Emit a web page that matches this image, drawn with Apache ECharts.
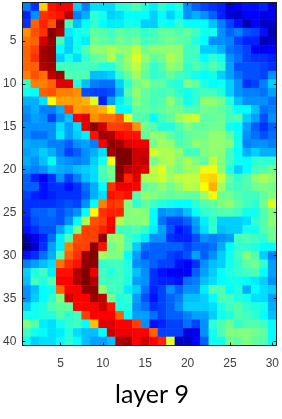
<!DOCTYPE html>
<html><head><meta charset="utf-8">
<style>html,body{margin:0;padding:0;background:#fff}#c{width:282px;height:419px}</style>
<script src="https://cdn.jsdelivr.net/npm/echarts@6/dist/echarts.min.js"></script>
</head><body><div id="c"></div>
<script>
const columns = Array.from({length:30},(_,i)=>String(i+1));
const rows = Array.from({length:40},(_,i)=>String(i+1));
const titleText = 'layer 9';
const jetStops = ['#000080','#0000ff','#0080ff','#00ffff','#80ff80','#ffff00','#ff8000','#ff0000','#800000'];
const values = [
[16,11,43,55,56,56,21,16,22,22,22,26,27,29,26,23,27,24,26,17,14,12,11,10,6,8,9,9,10,7],
[10,17,53,54,55,61,16,19,27,25,21,22,24,24,24,21,24,21,24,17,19,17,14,10,6,4,8,8,6,7],
[11,50,54,51,63,28,20,24,27,24,23,23,25,25,21,21,25,24,27,24,24,24,20,16,12,9,3,8,4,5],
[47,51,53,64,61,23,25,26,30,29,28,30,29,29,27,28,30,30,29,30,28,25,25,17,14,16,13,12,9,3],
[49,50,59,63,28,21,25,23,31,30,29,31,30,31,28,29,30,31,30,29,26,24,17,17,16,12,10,10,3,5],
[50,52,62,63,24,21,25,29,33,33,35,33,33,36,31,33,33,33,33,28,28,21,21,19,15,14,12,7,7,8],
[50,53,62,63,21,25,22,27,30,31,35,30,34,38,33,30,31,35,33,28,28,24,27,25,17,15,12,11,11,10],
[50,50,61,62,28,28,28,28,28,26,26,30,33,36,31,27,29,33,32,27,29,27,29,27,18,13,13,13,12,11],
[48,51,49,60,62,29,29,29,20,20,21,27,30,34,30,27,28,30,28,27,25,24,25,21,18,15,13,13,12,17],
[27,48,48,50,58,58,26,20,16,15,15,21,27,31,33,30,30,27,26,32,30,26,24,25,21,17,11,12,16,21],
[25,24,50,51,48,48,47,13,12,12,13,19,29,33,30,29,28,29,27,25,27,28,28,26,21,17,16,16,15,18],
[19,19,22,40,46,46,46,45,38,10,18,23,27,32,30,28,29,33,29,25,27,33,33,31,26,20,17,17,17,15],
[17,19,16,16,19,52,46,47,46,45,40,24,24,30,30,29,30,31,31,29,29,31,31,30,28,24,24,20,15,16],
[16,18,17,12,17,20,56,58,47,49,49,51,38,29,29,24,28,30,34,36,37,30,30,31,28,29,21,18,13,17],
[17,17,17,17,22,18,22,58,63,59,52,52,53,47,31,29,26,26,29,32,30,30,31,31,25,24,18,14,11,14],
[17,15,15,17,23,18,21,23,55,62,61,56,55,55,30,33,33,30,28,30,31,31,33,33,30,25,17,15,13,15],
[19,18,18,16,16,14,17,18,16,56,63,62,58,57,57,31,34,33,29,30,33,32,33,33,32,25,16,17,17,16],
[18,19,21,19,16,12,14,17,19,22,62,64,64,59,59,37,35,35,33,28,28,32,33,33,28,24,19,21,19,19],
[19,17,20,24,18,17,16,17,21,25,39,64,64,59,60,31,34,35,32,35,32,30,36,32,28,25,24,27,27,27],
[17,16,17,20,19,18,20,21,22,29,31,64,60,59,58,36,38,33,31,34,34,39,39,33,26,21,24,28,29,31],
[14,10,7,11,17,12,16,20,22,28,31,63,54,58,35,35,37,34,36,36,36,42,43,37,30,27,29,33,35,33],
[14,14,9,11,11,9,11,15,19,24,53,57,57,56,30,31,33,31,33,36,35,40,45,34,29,28,29,31,32,31],
[12,10,9,10,11,11,11,14,19,22,55,54,55,29,33,32,31,30,31,30,30,34,39,31,31,29,28,28,30,32],
[11,11,11,11,12,13,12,17,24,48,53,52,32,27,30,28,26,25,24,24,27,29,30,32,33,30,28,27,31,38],
[11,14,14,15,13,15,17,24,40,53,54,54,32,33,32,24,17,18,17,20,24,27,28,29,29,28,25,25,29,32],
[10,13,14,14,13,17,24,35,51,52,56,35,32,32,33,24,15,12,12,14,18,23,27,21,21,21,22,27,29,33],
[9,11,13,13,18,23,32,52,52,54,57,28,28,29,27,23,18,13,9,11,17,22,27,20,21,21,25,25,29,31],
[3,7,10,15,23,29,51,52,52,63,33,34,28,26,23,17,17,11,10,10,13,17,16,17,18,28,29,28,27,31],
[1,5,11,18,23,48,52,52,63,55,31,33,29,21,15,14,14,14,14,12,14,14,15,19,24,27,27,26,24,24],
[9,11,15,19,29,50,53,62,64,34,32,32,24,18,13,14,14,12,11,13,18,14,17,21,25,28,32,29,21,16],
[16,18,20,22,49,53,55,63,63,27,28,28,26,17,16,14,12,12,9,8,11,17,20,21,25,27,30,31,27,18],
[21,26,28,23,55,55,61,64,57,28,26,28,26,20,17,11,9,8,7,8,14,18,21,24,26,27,28,29,24,18],
[20,28,26,29,56,56,61,64,61,28,28,28,26,18,17,11,10,10,9,15,16,20,22,24,25,25,24,23,21,17],
[17,20,24,25,50,56,56,63,63,33,28,28,23,21,15,10,12,17,14,17,17,23,29,29,24,26,19,24,22,21],
[17,21,24,27,32,59,56,56,62,60,31,26,27,18,13,9,12,14,16,20,20,21,24,29,28,26,25,22,22,18],
[21,25,26,29,30,30,56,56,56,59,55,26,26,17,15,11,12,14,17,21,21,21,22,26,28,29,27,26,25,19],
[25,25,26,26,29,27,28,52,56,56,56,50,24,18,18,15,12,14,14,16,18,18,21,25,26,29,28,27,24,20],
[32,29,23,22,25,27,28,24,44,58,58,56,56,52,17,9,10,12,12,15,12,17,27,29,31,27,29,29,28,24],
[28,25,24,22,23,26,22,20,20,24,59,57,57,56,56,50,12,12,12,6,7,17,25,29,32,32,32,31,30,24],
[25,21,22,22,24,27,24,20,18,18,20,61,62,56,59,56,54,38,4,4,8,14,25,25,31,30,32,30,29,24]
];
const cells = [];
values.forEach((r,y)=>r.forEach((v,x)=>cells.push([x,y,v])));
const every5 = (i)=> (i+1)%5===0;
const axisLine = {show:true,lineStyle:{color:'#1a1a1a',width:1}};
const tick = {show:true,inside:true,length:3,alignWithLabel:true,interval:(i)=>every5(i),lineStyle:{color:'#1a1a1a'}};
const label = {interval:(i)=>every5(i),color:'#404040',fontFamily:'Liberation Sans',fontSize:12};
const chart = echarts.init(document.getElementById('c'),null,{renderer:'canvas'});
chart.setOption({
  animation:false,
  backgroundColor:'#fff',
  title:{text:titleText,left:147,top:377,textAlign:'center',textStyle:{fontFamily:'Lato',fontSize:25,fontWeight:'normal',color:'#000'}},
  grid:{left:21.5,right:4,top:2.5,bottom:73.5,containLabel:false},
  xAxis:[
    {type:'category',data:columns,position:'bottom',axisLine,axisTick:tick,axisLabel:{...label,margin:9,padding:[3,0,0,0]},splitLine:{show:false},z:5},
    {type:'category',data:columns,position:'top',axisLine,axisTick:tick,axisLabel:{show:false},splitLine:{show:false},z:5}
  ],
  yAxis:[
    {type:'category',data:rows,inverse:true,position:'left',axisLine,axisTick:tick,axisLabel:{...label,margin:6,padding:[4,0,0,0]},splitLine:{show:false},z:5},
    {type:'category',data:rows,inverse:true,position:'right',axisLine,axisTick:tick,axisLabel:{show:false},splitLine:{show:false},z:5}
  ],
  visualMap:{show:false,type:'continuous',min:0,max:64,dimension:2,seriesIndex:0,inRange:{color:jetStops}},
  series:[{type:'heatmap',data:cells,xAxisIndex:0,yAxisIndex:0,progressive:0,itemStyle:{borderWidth:0}}]
});
</script></body></html>
